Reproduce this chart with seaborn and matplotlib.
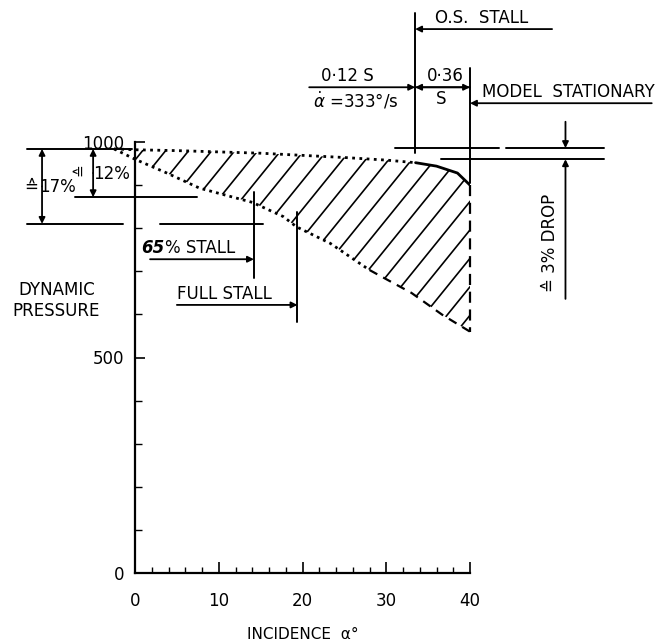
import numpy as np
import pandas as pd
import matplotlib
matplotlib.use("Agg")
import matplotlib.pyplot as plt
from matplotlib.patches import Polygon
from matplotlib.ticker import MultipleLocator
import seaborn as sns

# ---- data ----
top_alpha = [-2.5, 0, 5, 10, 15, 20, 25, 30, 33.5, 36, 38.5, 40]
top_q = [984, 982, 980, 977, 974, 969, 964, 958, 952, 944, 928, 900]
bot_alpha = [-2.5, 0, 3.8, 7.7, 11.7, 14, 17.7, 19.3, 23.3, 28, 29.5, 33, 36.7, 40]
bot_q = [984, 960, 928, 893, 872, 860, 827, 803, 765, 703, 687, 650, 599, 560]
x_ticks = [0, 10, 20, 30, 40]
x_tick_labels = ["0", "10", "20", "30", "40"]
y_ticks = [0, 500, 1000]
y_tick_labels = ["0", "500", "1000"]
stall_65 = 14.2
full_stall = 19.4
os_stall = 33.45
model_stationary = 40.0

sns.set_theme(style="ticks")
K = "black"
plt.rcParams["font.family"] = ["DejaVu Sans"]
plt.rcParams["text.color"] = K
plt.rcParams["axes.labelcolor"] = K
plt.rcParams["xtick.color"] = K
plt.rcParams["ytick.color"] = K

fig = plt.figure(figsize=(6.58, 6.42), dpi=100)
ax = fig.add_axes([135 / 658, 69 / 642, 335 / 658, 431 / 642])
ax.set_xlim(0, 40)
ax.set_ylim(0, 1000)

top = pd.DataFrame({"alpha": top_alpha, "q": top_q})
bot = pd.DataFrame({"alpha": bot_alpha, "q": bot_q})

# boundaries of the shaded region
t1 = top[top.alpha <= 33.5]
t2 = top[top.alpha >= 33.5]
b1 = bot[bot.alpha <= 28]
b2 = bot[bot.alpha >= 28]
sns.lineplot(data=t1, x="alpha", y="q", ax=ax, color=K, lw=2.0, linestyle=(0, (1, 1.6)),
             sort=False, estimator=None, clip_on=False)
sns.lineplot(data=t2, x="alpha", y="q", ax=ax, color=K, lw=2.0, sort=False, estimator=None)
sns.lineplot(data=b1, x="alpha", y="q", ax=ax, color=K, lw=2.0, linestyle=(0, (1, 1.5)),
             sort=False, estimator=None, clip_on=False)
sns.lineplot(data=b2, x="alpha", y="q", ax=ax, color=K, lw=1.6, linestyle=(0, (4, 3)),
             sort=False, estimator=None)
ax.plot([40, 40], [top_q[-1], bot_q[-1]], color=K, lw=1.6, linestyle=(0, (5, 3)), clip_on=False)

# hatching clipped to the region
verts = list(zip(top_alpha, top_q)) + list(zip(bot_alpha[::-1], bot_q[::-1]))
poly = Polygon(verts, closed=True, fill=False, edgecolor="none", transform=ax.transData)
ax.add_patch(poly)
poly.set_clip_on(False)
m = 24.0
for c in np.arange(-1.0, 62, 2.75):
    xs = np.array([-5, 45])
    ln, = ax.plot(xs, 1000 + m * (xs - c), color=K, lw=1.2, clip_on=True)
    ln.set_clip_path(poly)

# axes styling
for s in ["top", "right"]:
    ax.spines[s].set_visible(False)
for s in ["left", "bottom"]:
    ax.spines[s].set_linewidth(1.6)
    ax.spines[s].set_color(K)
ax.set_xticks(x_ticks)
ax.set_xticklabels(x_tick_labels, fontsize=12)
ax.xaxis.set_minor_locator(MultipleLocator(2))
ax.set_yticks(y_ticks)
ax.set_yticklabels(y_tick_labels, fontsize=12)
ax.yaxis.set_minor_locator(MultipleLocator(100))
ax.tick_params(axis="x", which="major", direction="in", length=8, width=1.2, pad=14,
               colors=K, bottom=True)
ax.tick_params(axis="x", which="minor", direction="in", length=4, width=1.0, colors=K,
               bottom=True)
ax.tick_params(axis="y", which="major", direction="in", length=7, width=1.2, pad=8,
               colors=K, left=True)
ax.tick_params(axis="y", which="minor", direction="in", length=5, width=1.0, colors=K,
               left=True)
ax.set_xlabel("INCIDENCE  α°", fontsize=11, labelpad=12, color=K)
ax.set_ylabel("")
ax.text(-9.4, 633, "DYNAMIC\nPRESSURE", fontsize=12, ha="center", va="center",
        linespacing=1.2, clip_on=False)


def seg(x0, y0, x1, y1, lw=1.4, ls="-"):
    ax.plot([x0, x1], [y0, y1], color=K, lw=lw, linestyle=ls, clip_on=False)


def arrow(x0, y0, x1, y1, both=False):
    ax.annotate("", xy=(x1, y1), xytext=(x0, y0), annotation_clip=False,
                arrowprops=dict(arrowstyle="<|-|>" if both else "-|>", color=K, lw=1.3,
                                shrinkA=0, shrinkB=0, mutation_scale=9))


# left reference lines (12 % and 17 %)
seg(-12.9, 984, -0.4, 984)
seg(-7.2, 872, 7.4, 872)
seg(-12.9, 810, -1.4, 810)
seg(3.0, 810, 15.3, 810)
arrow(-11.1, 897, -11.1, 984)
arrow(-11.1, 897, -11.1, 810)
arrow(-5.0, 928, -5.0, 984)
arrow(-5.0, 928, -5.0, 872)
ax.text(-12.4, 895, "≙", fontsize=12, ha="center", va="center", clip_on=False)
ax.text(-9.2, 895, "17%", fontsize=12, ha="center", va="center", clip_on=False)
ax.text(-6.6, 935, "≙", fontsize=11, ha="center", va="center", rotation=90, clip_on=False)
ax.text(-2.8, 925, "12%", fontsize=12, ha="center", va="center", clip_on=False)

# 65 % stall
seg(stall_65, 884, stall_65, 684)
arrow(1.8, 728, stall_65, 728)
ax.text(3.5, 733, "65", fontsize=12, fontweight="bold", fontstyle="italic",
        ha="right", va="bottom", clip_on=False)
ax.text(3.6, 733, "% STALL", fontsize=12, ha="left", va="bottom", clip_on=False)

# full stall
seg(full_stall, 838, full_stall, 582)
arrow(5.0, 622, full_stall, 622)
ax.text(5.0, 627, "FULL STALL", fontsize=12, ha="left", va="bottom", clip_on=False)

# O.S. stall
seg(os_stall, 974, os_stall, 1299)
arrow(49.8, 1262, os_stall, 1262)
ax.text(35.8, 1267, "O.S.  STALL", fontsize=12, ha="left", va="bottom", clip_on=False)

# model stationary
seg(model_stationary, 905, model_stationary, 1171)
arrow(61.7, 1090, model_stationary, 1090)
ax.text(41.4, 1096, "MODEL  STATIONARY", fontsize=12, ha="left", va="bottom", clip_on=False)

# timing arrows
arrow(20.8, 1127, os_stall, 1127)
arrow(os_stall, 1127, model_stationary, 1127)
arrow(model_stationary, 1127, os_stall, 1127)
ax.text(25.4, 1133, "0·12 S", fontsize=12, ha="center", va="bottom", clip_on=False)
ax.text(26.4, 1120, r"$\dot{\alpha}$ =333°/s", fontsize=12, ha="center", va="top", clip_on=False)
ax.text(37.1, 1133, "0·36", fontsize=12, ha="center", va="bottom", clip_on=False)
ax.text(36.6, 1120, "S", fontsize=12, ha="center", va="top", clip_on=False)

# 3 % drop
seg(31.0, 986, 43.5, 986)
seg(44.3, 986, 56.0, 986)
seg(36.5, 960, 56.0, 960)
arrow(51.4, 1047, 51.4, 986)
arrow(51.4, 636, 51.4, 960)
ax.text(49.6, 766, "≙ 3% DROP", fontsize=12, ha="center", va="center", rotation=90,
        clip_on=False)

fig.savefig("out.png", dpi=100)
